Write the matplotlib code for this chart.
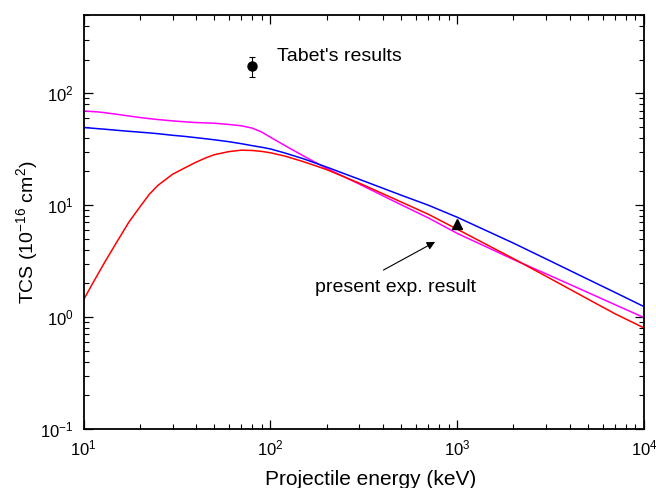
import matplotlib
matplotlib.use("Agg")
import matplotlib.pyplot as plt
import numpy as np

# ---- data ----
energy_keV = [10, 11, 12, 13, 15, 17.5, 20, 22.5, 25, 30, 35, 40, 45, 50, 60, 70, 80, 90,
              100, 120, 150, 200, 300, 500, 700, 1000, 2000, 3000, 5000, 7000, 10000]
tcs_blue = [49.4, 48.8, 48.2, 47.7, 46.7, 45.7, 44.9, 44.2, 43.5, 42.1, 41.1, 40.1, 39.2,
            38.4, 36.9, 35.4, 34.0, 32.9, 31.8, 29.2, 26.0, 21.9, 17.0, 12.3, 10.0, 7.8,
            4.58, 3.30, 2.18, 1.66, 1.24]
tcs_magenta = [69.4, 68.7, 68.0, 67.0, 64.9, 62.6, 60.7, 59.3, 58.2, 56.6, 55.5, 54.7,
               54.3, 54.0, 52.6, 51.2, 48.8, 45.0, 40.5, 34.0, 27.6, 21.3, 15.4, 10.1, 7.7,
               5.6, 3.27, 2.43, 1.66, 1.29, 0.99]
tcs_red = [1.42, 1.9, 2.45, 3.1, 4.62, 7.06, 9.6, 12.5, 15.0, 18.9, 21.6, 24.2, 26.4,
           28.2, 30.1, 31.0, 30.8, 30.2, 29.4, 27.4, 24.5, 20.8, 15.7, 10.7, 8.3, 6.1,
           3.33, 2.31, 1.45, 1.07, 0.80]

tabet_E = [80]
tabet_tcs = [175]
tabet_err_low = [35]
tabet_err_high = [36]

present_E = [1000]
present_tcs = [6.8]

plt.rcParams['font.family'] = ['Liberation Sans', 'DejaVu Sans']
plt.rcParams['mathtext.fontset'] = 'custom'
plt.rcParams['mathtext.rm'] = 'Liberation Sans'
plt.rcParams['mathtext.it'] = 'Liberation Sans:italic'
plt.rcParams['mathtext.default'] = 'regular'

fig = plt.figure(figsize=(6.56, 4.88), dpi=100)
ax = fig.add_axes([83.5 / 656, 1 - 429 / 488, (644 - 83.5) / 656, (429 - 15) / 488])

lw = 1.1
ax.plot(energy_keV, tcs_magenta, color='#FF00FF', lw=lw)
ax.plot(energy_keV, tcs_blue, color='#0000FF', lw=lw)
ax.plot(energy_keV, tcs_red, color='#FF0000', lw=lw)

ax.errorbar(tabet_E, tabet_tcs, yerr=[tabet_err_low, tabet_err_high], fmt='o',
            color='black', ms=6.5, capsize=2.2, elinewidth=0.8, capthick=0.8)
ax.plot(present_E, present_tcs, marker='^', color='black', ms=7, ls='none')

ax.text(108, 211, "Tabet's results", fontsize=14, ha='left', va='center')
ax.text(173, 1.82, "present exp. result", fontsize=14, ha='left', va='center')
ax.annotate('', xy=(762, 4.70), xytext=(403, 2.63),
            arrowprops=dict(arrowstyle='-|>', color='black', lw=0.8,
                            mutation_scale=12, shrinkA=0, shrinkB=0))

ax.set_xscale('log')
ax.set_yscale('log')
ax.set_xlim(10, 1e4)
ax.set_ylim(0.1, 500)

for s in ax.spines.values():
    s.set_linewidth(1.3)
ax.tick_params(which='both', direction='in', top=True, right=True, labelsize=12)
ax.tick_params(which='major', length=6.5, width=0.9, pad=7)
ax.tick_params(which='minor', length=3.6, width=0.8)

ax.set_xlabel('Projectile energy (keV)', fontsize=15, va='top')
ax.xaxis.set_label_coords(0.512, -0.099)
ax.set_ylabel('TCS (10$^{-16}$ cm$^{2}$)', fontsize=14, va='center')
ax.yaxis.set_label_coords(-0.1008, 0.476)

fig.savefig('out.png', dpi=100)
